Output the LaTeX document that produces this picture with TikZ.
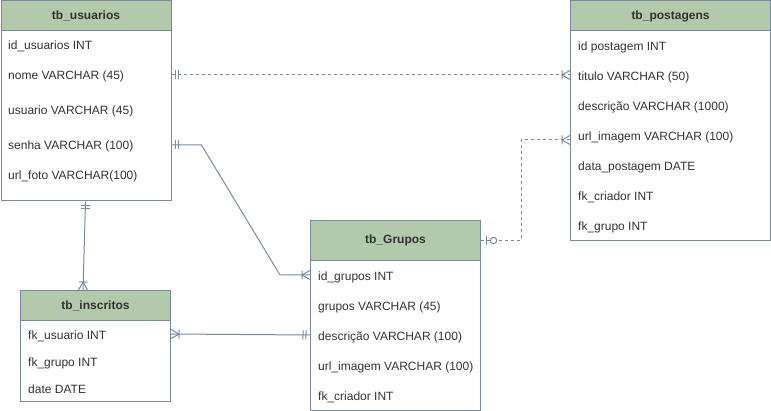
\documentclass[tikz,border=0pt]{standalone}
\usepackage{fontspec}
\setmainfont{Liberation Sans}
\usetikzlibrary{arrows.meta}
\definecolor{bord}{HTML}{788AA3}
\definecolor{hdrfill}{HTML}{B2C9AB}
\definecolor{txt}{HTML}{333333}

% mandatory one: two bars
\pgfdeclarearrow{
  name = mone,
  setup code = {
    \pgfarrowssettipend{0pt}
    \pgfarrowssetlineend{0pt}
    \pgfarrowssetbackend{-8pt}
    \pgfarrowshullpoint{0pt}{5pt}
    \pgfarrowshullpoint{0pt}{-5pt}
    \pgfarrowshullpoint{-8pt}{5pt}
    \pgfarrowshullpoint{-8pt}{-5pt}
  },
  drawing code = {
    \pgfsetdash{}{0pt}
    \pgfpathmoveto{\pgfpoint{-4pt}{4.5pt}}
    \pgfpathlineto{\pgfpoint{-4pt}{-4.5pt}}
    \pgfpathmoveto{\pgfpoint{-7pt}{4.5pt}}
    \pgfpathlineto{\pgfpoint{-7pt}{-4.5pt}}
    \pgfusepathqstroke
  },
}
% one or many: bar + crow's foot
\pgfdeclarearrow{
  name = omany,
  setup code = {
    \pgfarrowssettipend{0pt}
    \pgfarrowssetlineend{0pt}
    \pgfarrowssetbackend{-9pt}
    \pgfarrowshullpoint{0pt}{5pt}
    \pgfarrowshullpoint{0pt}{-5pt}
    \pgfarrowshullpoint{-9pt}{5pt}
    \pgfarrowshullpoint{-9pt}{-5pt}
  },
  drawing code = {
    \pgfsetdash{}{0pt}
    \pgfpathmoveto{\pgfpoint{0pt}{4.5pt}}
    \pgfpathlineto{\pgfpoint{-8pt}{0pt}}
    \pgfpathlineto{\pgfpoint{0pt}{-4.5pt}}
    \pgfpathmoveto{\pgfpoint{-8pt}{4.5pt}}
    \pgfpathlineto{\pgfpoint{-8pt}{-4.5pt}}
    \pgfusepathqstroke
  },
}
% zero or one: bar + circle
\pgfdeclarearrow{
  name = zone,
  setup code = {
    \pgfarrowssettipend{0pt}
    \pgfarrowssetlineend{0pt}
    \pgfarrowssetbackend{-17pt}
    \pgfarrowshullpoint{0pt}{5pt}
    \pgfarrowshullpoint{0pt}{-5pt}
    \pgfarrowshullpoint{-17pt}{5pt}
    \pgfarrowshullpoint{-17pt}{-5pt}
  },
  drawing code = {
    \pgfsetdash{}{0pt}
    \pgfpathmoveto{\pgfpoint{-5pt}{4.5pt}}
    \pgfpathlineto{\pgfpoint{-5pt}{-4.5pt}}
    \pgfusepathqstroke
    \pgfsetfillcolor{white}
    \pgfpathcircle{\pgfpoint{-12.5pt}{0pt}}{3.2pt}
    \pgfusepathqfillstroke
  },
}

\begin{document}
\begin{tikzpicture}[x=1pt,y=-1pt,
  every node/.style={font=\fontsize{12}{14}\selectfont, text=txt, inner sep=0pt},
  tbox/.style={draw=bord, line width=1pt, fill=white, anchor=north west},
  thead/.style={draw=bord, line width=1pt, fill=hdrfill, anchor=north west, font=\fontsize{12}{14}\selectfont\bfseries},
  row/.style={anchor=west, text height=9pt, text depth=3pt},
  conn/.style={draw=bord, line width=1pt},
  dconn/.style={conn, dash pattern=on 3pt off 3pt}
]
\useasboundingbox (0,0) rectangle (771,411);

% tb_usuarios
\node[tbox, minimum width=170pt, minimum height=200pt] (usu) at (0.5,0.5) {};
\node[thead, minimum width=170pt, minimum height=30pt] (uh) at (0.5,0.5) {tb\_usuarios};
\node[row] (u1) at (8,47) {id\_usuarios INT};
\node[row] (u2) at (8,77) {nome VARCHAR (45)};
\node[row] (u3) at (8,112) {usuario VARCHAR (45)};
\node[row] (u4) at (8,147) {senha VARCHAR (100)};
\node[row] (u5) at (8,177) {url\_foto VARCHAR(100)};

% tb_postagens
\node[tbox, minimum width=200pt, minimum height=240pt] (post) at (570,0.5) {};
\node[thead, minimum width=200pt, minimum height=30pt] (ph) at (570,0.5) {tb\_postagens};
\node[row] (p1) at (578,47.5) {id postagem INT};
\node[row] (p2) at (578,77.5) {titulo VARCHAR (50)};
\node[row] (p3) at (578,107.5) {descrição VARCHAR (1000)};
\node[row] (p4) at (578,137.5) {url\_imagem VARCHAR (100)};
\node[row] (p5) at (578,167.5) {data\_postagem DATE};
\node[row] (p6) at (578,197.5) {fk\_criador INT};
\node[row] (p7) at (578,227.5) {fk\_grupo INT};

% tb_Grupos
\node[tbox, minimum width=170pt, minimum height=190pt] (grp) at (310,220) {};
\node[thead, minimum width=170pt, minimum height=40pt] (gh) at (310,220) {tb\_Grupos};
\node[row] (g1) at (318,277.5) {id\_grupos INT};
\node[row] (g2) at (318,307.5) {grupos VARCHAR (45)};
\node[row] (g3) at (318,337.5) {descrição VARCHAR (100)};
\node[row] (g4) at (318,367.5) {url\_imagem VARCHAR (100)};
\node[row] (g5) at (318,397.5) {fk\_criador INT};

% tb_inscritos
\node[tbox, minimum width=150pt, minimum height=111pt] (ins) at (20,290) {};
\node[thead, minimum width=150pt, minimum height=30pt] (ih) at (20,290) {tb\_inscritos};
\node[row] (i1) at (28,336.5) {fk\_usuario INT};
\node[row] (i2) at (28,363.5) {fk\_grupo INT};
\node[row] (i3) at (28,390.5) {date DATE};

% connectors
\draw[dconn, arrows={mone-omany}] ([yshift=2pt]usu.east |- u2) -- ([yshift=2.5pt]post.west |- p2);
\draw[conn, arrows={mone-omany}] ([yshift=2pt]usu.east |- u4) -- ([xshift=30pt,yshift=2pt]usu.east |- u4)
  -- ([xshift=-30pt,yshift=2.5pt]grp.west |- g1) -- ([yshift=2.5pt]grp.west |- g1);
\draw[conn, arrows={mone-omany}] ([xshift=85pt]usu.south west) -- ([xshift=63pt]ins.north west);
\draw[conn, arrows={omany-mone}] ([yshift=2.5pt]ins.east |- i1) -- ([yshift=2.5pt]grp.west |- g3);
\draw[dconn, arrows={zone-omany}] (grp.east |- gh) -- ([xshift=40pt]grp.east |- gh)
  |- ([yshift=-2.5pt]post.west |- p4);
\end{tikzpicture}
\end{document}
